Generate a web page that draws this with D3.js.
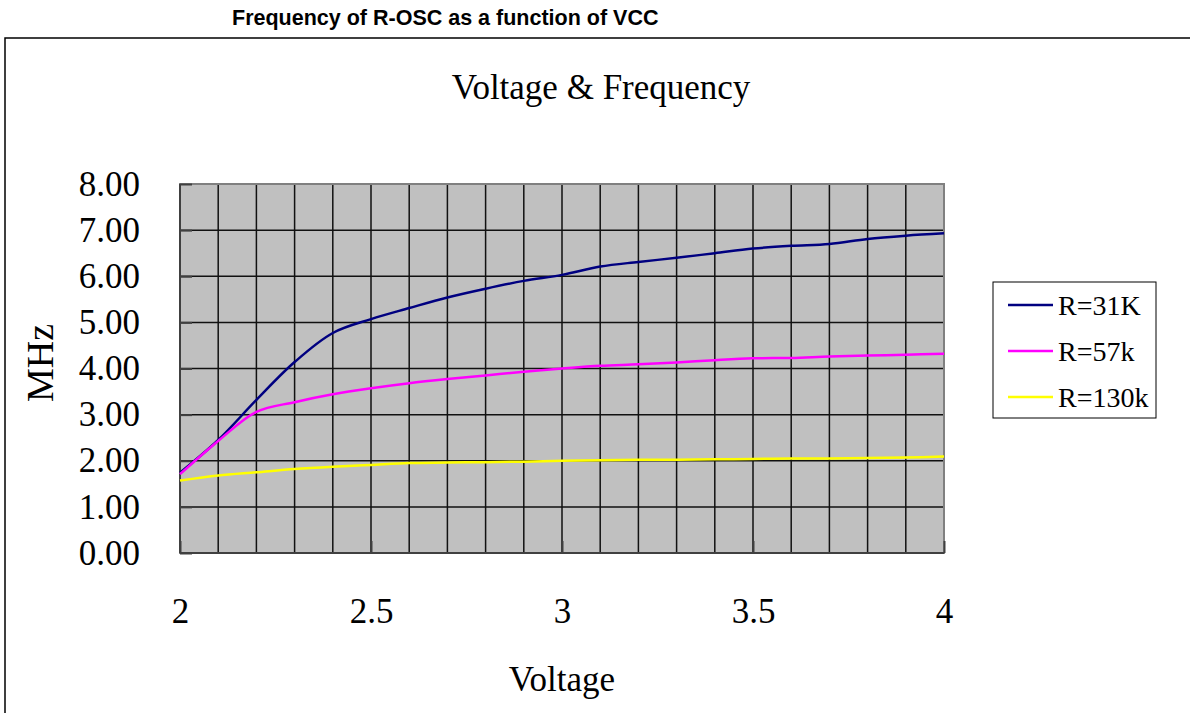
<!DOCTYPE html>
<html>
<head>
<meta charset="utf-8">
<script src="https://cdn.jsdelivr.net/npm/d3@7/dist/d3.min.js"></script>
<style>
  body { margin: 0; background: #fff; }
  svg { display: block; }
</style>
</head>
<body>
<script>
// data
var voltage = [2.0, 2.1, 2.2, 2.3, 2.4, 2.5, 2.6, 2.7, 2.8, 2.9, 3.0,
               3.1, 3.2, 3.3, 3.4, 3.5, 3.6, 3.7, 3.8, 3.9, 4.0];
var r31k  = [1.74, 2.45, 3.32, 4.14, 4.77, 5.07, 5.31, 5.54, 5.73, 5.90, 6.03,
             6.21, 6.31, 6.40, 6.50, 6.60, 6.66, 6.70, 6.81, 6.88, 6.93];
var r57k  = [1.71, 2.43, 3.06, 3.27, 3.44, 3.57, 3.68, 3.77, 3.85, 3.93, 4.00,
             4.06, 4.09, 4.13, 4.18, 4.22, 4.23, 4.26, 4.28, 4.30, 4.32];
var r130k = [1.57, 1.68, 1.75, 1.82, 1.87, 1.91, 1.95, 1.96, 1.97, 1.98, 2.00,
             2.01, 2.02, 2.02, 2.03, 2.04, 2.05, 2.05, 2.06, 2.07, 2.09];
var seriesNames = ["R=31K", "R=57k", "R=130k"];
var seriesColors = ["#000080", "#ff00ff", "#ffff00"];
var yTicks = [0, 1, 2, 3, 4, 5, 6, 7, 8];
var xTicks = [2, 2.5, 3, 3.5, 4];

var W = 1190, H = 713;
var serif = "'Liberation Serif', 'DejaVu Serif', serif";
var svg = d3.select("body").append("svg").attr("width", W).attr("height", H);

// page heading
svg.append("text")
    .attr("x", 232).attr("y", 25)
    .attr("font-family", "'Liberation Sans', Arial, sans-serif")
    .attr("font-weight", "bold").attr("font-size", 21.5)
    .text("Frequency of R-OSC as a function of VCC");

// chart frame (runs off the right and bottom)
svg.append("rect")
    .attr("x", 5).attr("y", 38).attr("width", W + 20).attr("height", H + 20)
    .attr("fill", "none").attr("stroke", "#000").attr("stroke-width", 1.5);

var plot = {left: 180, top: 184, right: 944, bottom: 553};
var x = d3.scaleLinear().domain([2, 4]).range([plot.left, plot.right]);
var y = d3.scaleLinear().domain([0, 8]).range([plot.bottom, plot.top]);

var g = svg.append("g");
g.append("rect")
    .attr("x", plot.left).attr("y", plot.top)
    .attr("width", plot.right - plot.left).attr("height", plot.bottom - plot.top)
    .attr("fill", "#c0c0c0");

// grid
g.selectAll(".vgrid").data(voltage).enter().append("line")
    .attr("x1", function(d){ return x(d); }).attr("x2", function(d){ return x(d); })
    .attr("y1", plot.top).attr("y2", plot.bottom)
    .attr("stroke", "#111").attr("stroke-width", 1.5);
g.selectAll(".hgrid").data(yTicks).enter().append("line")
    .attr("x1", plot.left).attr("x2", plot.right)
    .attr("y1", function(d){ return y(d); }).attr("y2", function(d){ return y(d); })
    .attr("stroke", "#111").attr("stroke-width", 1.5);

// plot border
g.append("rect")
    .attr("x", plot.left).attr("y", plot.top)
    .attr("width", plot.right - plot.left).attr("height", plot.bottom - plot.top)
    .attr("fill", "none").attr("stroke", "#808080").attr("stroke-width", 2);
g.append("line").attr("x1", plot.left).attr("x2", plot.left)
    .attr("y1", plot.top).attr("y2", plot.bottom)
    .attr("stroke", "#404040").attr("stroke-width", 2);
g.append("line").attr("x1", plot.left).attr("x2", plot.right)
    .attr("y1", plot.bottom).attr("y2", plot.bottom)
    .attr("stroke", "#404040").attr("stroke-width", 2);

// axes with inward ticks
var yAxis = d3.axisLeft(y).tickValues(yTicks).tickSize(-12).tickPadding(40)
    .tickFormat(d3.format(".2f"));
var ya = svg.append("g").attr("transform", "translate(" + plot.left + ",0)").call(yAxis);
var xAxis = d3.axisBottom(x).tickValues(xTicks).tickSize(-12).tickPadding(45)
    .tickFormat(function(d){ return String(d); });
var xa = svg.append("g").attr("transform", "translate(0," + plot.bottom + ")").call(xAxis);
[ya, xa].forEach(function(a){
    a.select(".domain").remove();
    a.selectAll(".tick line").attr("stroke", "#404040").attr("stroke-width", 2);
    a.selectAll(".tick text").attr("font-family", serif).attr("font-size", 35).attr("fill", "#000");
});

// series
var allSeries = [r31k, r57k, r130k];
var line = d3.line()
    .x(function(d, i){ return x(voltage[i]); })
    .y(function(d){ return y(d); })
    .curve(d3.curveCatmullRom.alpha(0.5));
svg.selectAll(".series").data(allSeries).enter().append("path")
    .attr("d", line)
    .attr("fill", "none")
    .attr("stroke", function(d, i){ return seriesColors[i]; })
    .attr("stroke-width", 2.5);

// titles
svg.append("text").attr("x", 601).attr("y", 99).attr("text-anchor", "middle")
    .attr("font-family", serif).attr("font-size", 35).text("Voltage & Frequency");
svg.append("text").attr("x", 562).attr("y", 691).attr("text-anchor", "middle")
    .attr("font-family", serif).attr("font-size", 35).text("Voltage");
svg.append("text").attr("transform", "translate(53,363) rotate(-90)")
    .attr("text-anchor", "middle")
    .attr("font-family", serif).attr("font-size", 38).text("MHz");

// legend
var lg = svg.append("g");
lg.append("rect").attr("x", 993).attr("y", 282).attr("width", 163).attr("height", 136)
    .attr("fill", "#fff").attr("stroke", "#000").attr("stroke-width", 1);
var rows = lg.selectAll(".row").data(seriesNames).enter().append("g")
    .attr("transform", function(d, i){ return "translate(0," + (305 + i * 46) + ")"; });
rows.append("line").attr("x1", 1008).attr("x2", 1053).attr("y1", 0).attr("y2", 0)
    .attr("stroke", function(d, i){ return seriesColors[i]; }).attr("stroke-width", 2.5);
rows.append("text").attr("x", 1058).attr("y", 10)
    .attr("font-family", serif).attr("font-size", 28).text(function(d){ return d; });
</script>
</body>
</html>
